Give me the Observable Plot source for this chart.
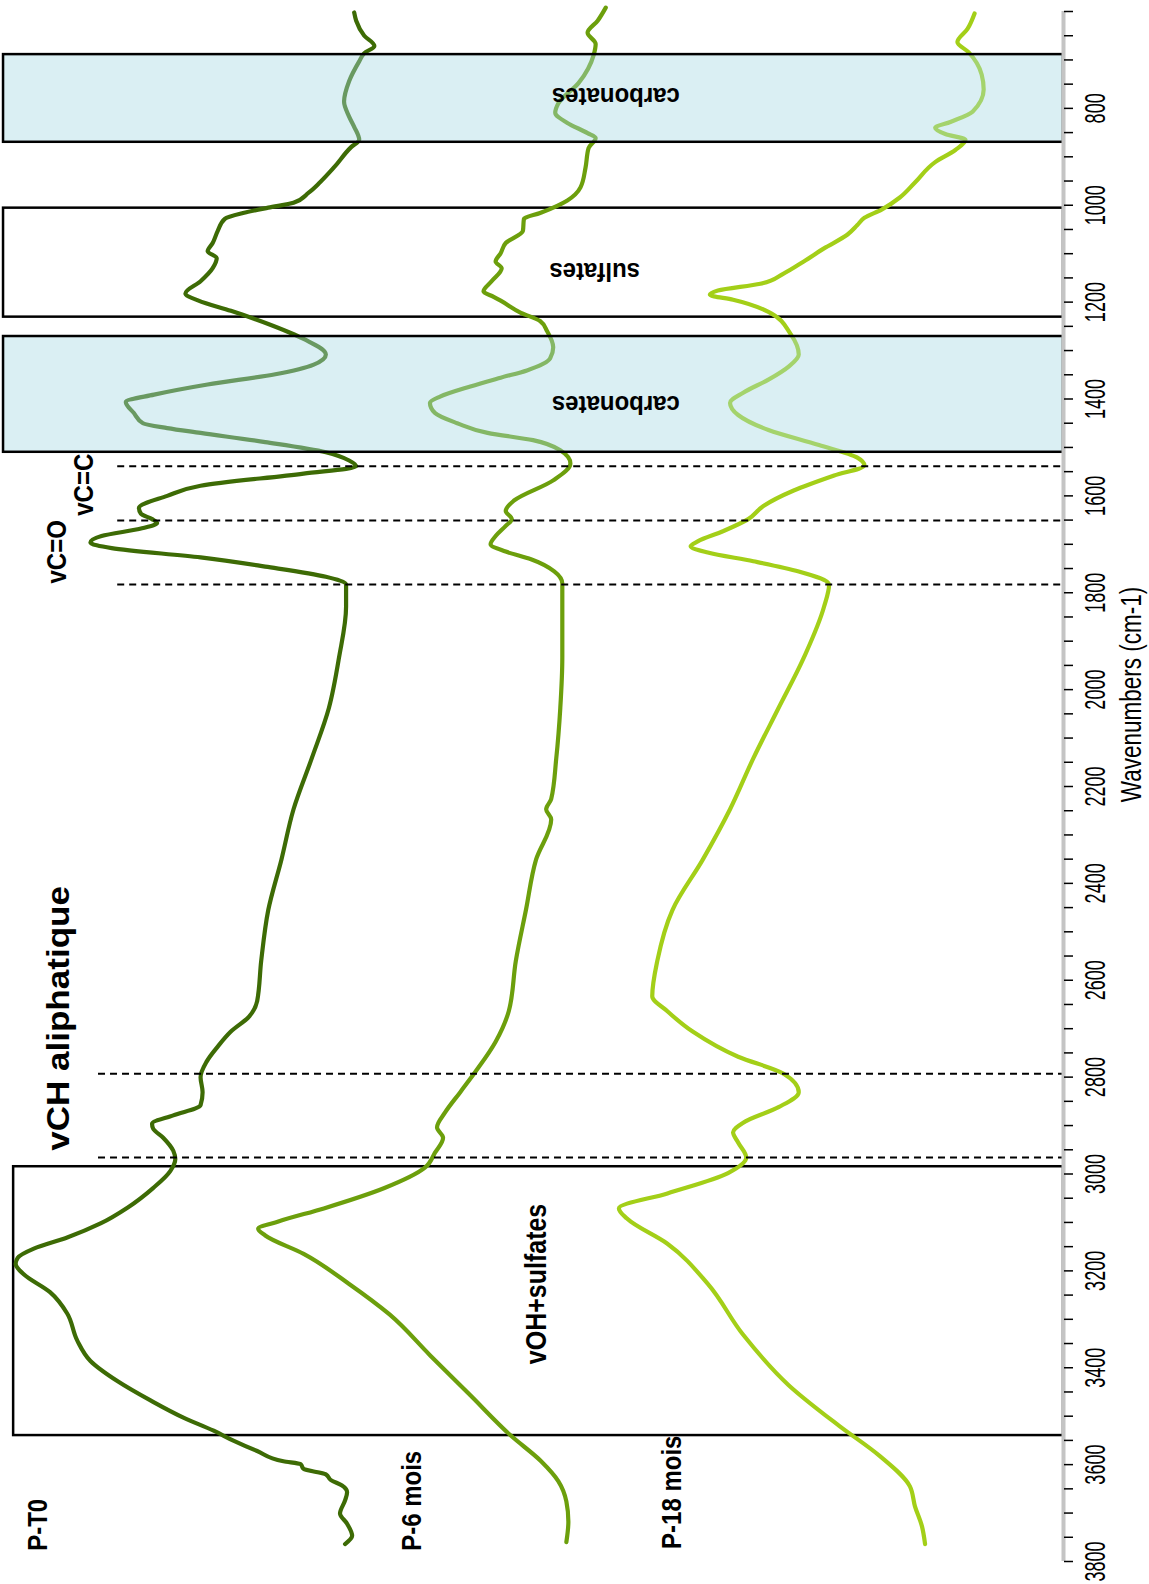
<!DOCTYPE html>
<html><head><meta charset="utf-8">
<script src="https://cdn.jsdelivr.net/npm/d3@7"></script>
<script src="https://cdn.jsdelivr.net/npm/@observablehq/plot@0.6"></script>
<style>body{margin:0;background:#fff} svg{display:block}</style>
</head><body><div id="chart"></div>
<script>
// ---- data (wavenumber in cm-1, signal in arbitrary units) ----
const seriesNames = ["P-T0", "P-6 mois", "P-18 mois"];
const seriesColors = ["#3d6b05", "#6c9f0c", "#a3cf18"];

const waveT0 = [602,619,650,671,686,703,744,786,817,838,865,880,922,953,974,995,1005,1016,1028,1053,1078,1095,1109,1130,1157,1182,1197,1218,1245,1276,1308,1329,1349,1370,1391,1406,1429,1450,1460,1470,1489,1510,1527,1539,1554,1579,1600,1625,1637,1648,1656,1667,1683,1696,1708,1727,1746,1767,1783,1829,1934,2038,2142,2247,2351,2455,2560,2643,2675,2706,2737,2768,2800,2831,2858,2879,2896,2906,2925,2952,2969,2994,3029,3069,3102,3131,3154,3173,3186,3207,3244,3288,3344,3386,3428,3467,3503,3530,3551,3572,3593,3599,3609,3620,3632,3643,3657,3674,3701,3722,3747,3764];
const sigT0 = [35.0,35.2,36.0,37.0,36.0,35.5,34.5,34.0,34.5,35.0,35.5,34.7,33.0,31.6,30.5,29.0,26.5,24.0,22.2,21.5,21.0,20.5,21.4,21.0,19.8,18.3,19.6,22.8,26.5,30.0,32.2,31.0,27.2,20.5,15.2,12.4,13.2,14.1,16.5,19.8,26.2,32.2,34.5,35.2,30.0,19.8,16.5,13.7,13.9,15.0,15.5,14.0,10.0,8.9,11.0,19.8,26.2,32.2,34.2,34.2,33.5,32.5,30.8,29.0,27.8,26.5,25.8,25.4,24.6,22.8,21.5,20.4,19.8,20.0,19.8,17.1,15.0,15.1,16.1,17.1,17.3,16.8,15.1,12.6,9.9,6.6,3.3,1.7,1.5,2.3,4.9,6.6,7.6,8.9,11.6,14.8,18.1,21.1,23.1,25.4,28.0,29.7,30.0,32.2,32.7,33.8,34.3,34.1,33.6,34.3,34.8,34.1];

const waveP6 = [592,619,644,667,690,748,790,809,830,851,861,882,922,963,990,1016,1028,1053,1078,1099,1116,1130,1157,1178,1189,1197,1222,1239,1260,1293,1316,1341,1356,1374,1395,1408,1429,1450,1470,1485,1506,1533,1568,1610,1631,1648,1662,1683,1700,1715,1731,1756,1781,1829,1934,2038,2142,2226,2247,2268,2351,2455,2560,2664,2727,2789,2831,2873,2904,2925,2956,2987,3029,3071,3098,3113,3127,3165,3227,3290,3374,3457,3540,3593,3634,3676,3718,3760];
const sigP6 = [59.9,59.1,58.1,58.9,58.7,57.2,55.2,54.9,56.1,58.1,58.9,58.2,57.9,57.4,56.1,53.4,51.8,51.7,50.0,49.5,49.0,49.6,48.6,47.8,48.8,49.5,51.5,53.4,54.1,54.7,54.4,52.1,49.5,46.5,43.5,42.5,43.0,45.2,48.2,52.7,55.4,56.4,54.7,50.8,50.0,50.6,50.0,49.0,48.5,50.0,52.5,54.8,55.6,55.6,55.6,55.4,55.0,54.5,54.0,54.5,53.0,52.0,51.0,50.3,49.0,47.0,45.5,44.0,43.2,43.8,43.0,42.0,38.0,32.0,27.5,25.5,26.2,30.0,34.5,38.5,42.5,46.5,50.5,53.5,55.2,56.0,56.2,56.0];

const waveP18 = [604,636,663,684,730,761,807,828,840,853,865,886,911,953,984,1009,1026,1041,1061,1089,1116,1141,1162,1176,1185,1195,1220,1266,1308,1333,1360,1387,1408,1433,1464,1495,1521,1537,1558,1589,1621,1648,1673,1694,1704,1717,1735,1756,1783,1829,1934,2038,2142,2247,2351,2455,2560,2633,2664,2706,2758,2793,2831,2862,2894,2914,2935,2966,2998,3040,3071,3092,3144,3227,3332,3436,3520,3582,3645,3686,3728,3764];
const sigP18 = [96.4,95.7,94.7,95.8,97.1,97.3,96.2,94.0,92.5,93.5,95.5,94.5,92.5,90.5,89.0,87.2,85.5,84.8,83.8,81.5,79.5,77.5,75.2,71.0,70.2,72.5,76.0,78.2,79.0,78.0,76.0,73.5,72.2,73.0,76.0,81.0,84.8,85.5,82.5,78.5,75.5,74.0,71.5,69.0,68.3,70.0,74.5,79.0,82.0,81.5,79.5,77.0,74.5,72.2,69.5,66.5,65.0,64.5,66.0,68.5,73.0,77.5,79.0,77.0,73.5,72.5,73.0,73.8,72.0,66.0,61.2,62.0,66.0,70.0,73.5,78.0,83.0,87.0,90.0,90.5,91.2,91.5];

// annotated bands (cm-1)
const bandNames = ["carbonates", "sulfates", "carbonates", "vOH+sulfates"];
const bandFrom = [689, 1006, 1271, 2985];
const bandTo = [870, 1231, 1510, 3540];
const bandShaded = [true, false, true, false];

// dashed reference lines (cm-1)
const refWaves = [1539, 1651, 1783, 2793, 2966];

// axis ticks
const minorTicks = d3.range(600, 3801, 50);
const labelTicks = d3.range(800, 3801, 200);

// ---- build tables ----
const waves = [waveT0, waveP6, waveP18];
const sigs = [sigT0, sigP6, sigP18];
const rows = seriesNames.flatMap((name, k) => waves[k].map((w, i) => ({series: name, wave: w, s: sigs[k][i]})));
const bands = bandNames.map((n, i) => ({name: n, from: bandFrom[i], to: bandTo[i], shaded: bandShaded[i], left: n === "vOH+sulfates" ? 1.3 : 0.3}));
const refs = refWaves.map(w => ({wave: w, left: w < 2000 ? 11.6 : 9.7}));
const XMAX = 105.2;

const font = "'Liberation Sans', Arial, sans-serif";

const chart = Plot.plot({
  width: 1149, height: 1584,
  marginLeft: 0, marginRight: 86, marginTop: 11, marginBottom: 23,
  x: {domain: [0, XMAX], axis: null},
  y: {domain: [600, 3800], reverse: true, axis: null},
  color: {domain: seriesNames, range: seriesColors},
  style: {fontFamily: font, background: "white", color: "black"},
  marks: [
    Plot.rect(bands.filter(d => !d.shaded), {x1: "left", x2: XMAX, y1: "from", y2: "to", fill: "none", stroke: "black", strokeWidth: 2.5}),
    Plot.line(rows, {x: "s", y: "wave", z: "series", stroke: "series", strokeWidth: 4.2, curve: "monotone-y", strokeLinejoin: "round", strokeLinecap: "round"}),
    Plot.rect(bands.filter(d => d.shaded), {x1: "left", x2: XMAX, y1: "from", y2: "to", fill: "#a8d8e2", fillOpacity: 0.42, stroke: "black", strokeWidth: 2.5}),
    Plot.ruleY(refs, {y: "wave", x1: "left", x2: XMAX, stroke: "black", strokeWidth: 2, strokeDasharray: "7,5"}),
    Plot.ruleX([XMAX], {y1: 600, y2: 3800, stroke: "#c4c4c4", strokeWidth: 4}),
    Plot.axisY(minorTicks, {anchor: "right", tickSize: 9, tickFormat: () => "", stroke: "black", strokeWidth: 1.5}),
    Plot.axisY(labelTicks, {anchor: "right", tickSize: 0, tickPadding: 32, tickRotate: -90, tickFormat: d => String(d), textAnchor: "middle", lineAnchor: "middle", fontSize: 18, className: "stretch-tick"}),
    Plot.text(["Wavenumbers (cm-1)"], {frameAnchor: "right", y: [2010], dx: 68, rotate: -90, textAnchor: "middle", lineAnchor: "middle", fontSize: 22.5, className: "stretch-axis"}),
    // series names
    Plot.text(seriesNames, {x: [3.76, 40.7, 66.5], y: [3778, 3778, 3774], rotate: -90, textAnchor: "start", lineAnchor: "middle", fontSize: 24, fontWeight: "bold", className: "stretch-lbl"}),
    // band labels
    Plot.text(["vCH aliphatique"], {x: [5.8], y: [2952], rotate: -90, textAnchor: "start", lineAnchor: "middle", fontSize: 31, fontWeight: "bold", className: "long-lbl"}),
    Plot.text(["vC=O", "vC=C"], {x: [5.6, 8.3], y: [1781, 1641], rotate: -90, textAnchor: "start", lineAnchor: "middle", fontSize: 24, fontWeight: "bold", className: "stretch-lbl"}),
    Plot.text(["vOH+sulfates"], {x: [53.1], y: [3227], rotate: -90, textAnchor: "middle", lineAnchor: "middle", fontSize: 25, fontWeight: "bold", className: "stretch-lbl"}),
    Plot.text(["carbonates", "sulfates", "carbonates"], {x: [60.9, 58.8, 60.9], y: [775, 1137, 1412], rotate: 180, textAnchor: "middle", lineAnchor: "middle", fontSize: 24, fontWeight: "bold", className: "stretch-up"})
  ]
});

function stretch(sel, sx, sy) {
  d3.select(chart).selectAll(sel).each(function() {
    const t = this.getAttribute("transform") || "";
    this.setAttribute("transform", t + ` scale(${sx},${sy})`);
  });
}
stretch(".stretch-tick text", 1, 1.6);
stretch(".stretch-axis text", 1, 1.3);
stretch(".stretch-lbl text", 1, 1.15);
stretch(".long-lbl text", 1.13, 1.02);
stretch(".stretch-up text", 1, 1.1);

document.getElementById("chart").appendChild(chart);
</script>
</body></html>
